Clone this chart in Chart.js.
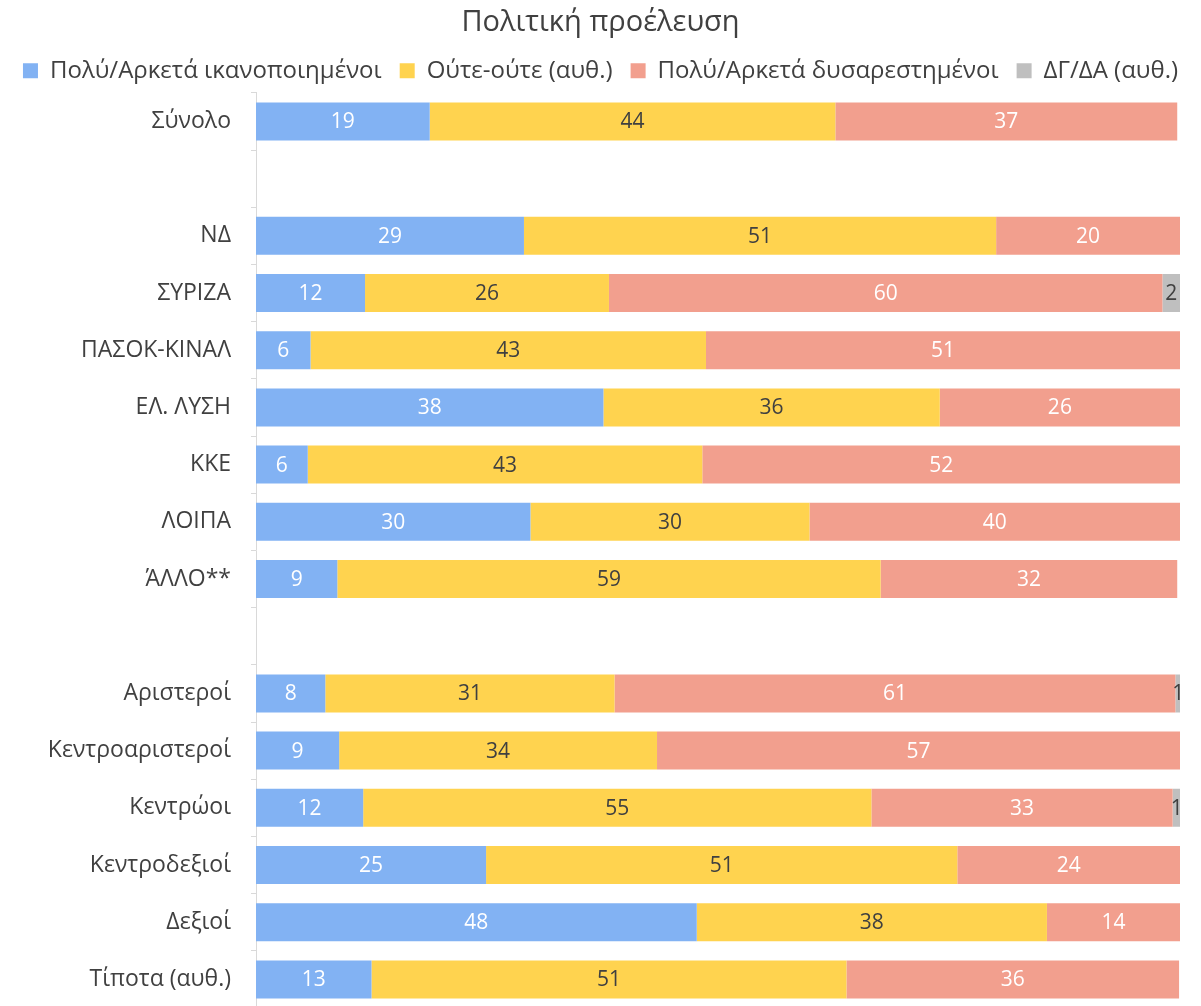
<!DOCTYPE html>
<html lang="el">
  <head>
    <meta charset="UTF-8" />
    <title>Πολιτική προέλευση</title>
    <script src="https://cdn.jsdelivr.net/npm/chart.js"></script>
    <style>
      html, body { margin: 0; padding: 0; background: #fff; overflow: hidden; }
      canvas { display: block; }
    </style>
  </head>
  <body>
    <canvas id="myChart" width="1201" height="1010"></canvas>

    <script>
      // DATA
      const categories = [
        'Σύνολο', '',
        'ΝΔ', 'ΣΥΡΙΖΑ', 'ΠΑΣΟΚ-ΚΙΝΑΛ', 'ΕΛ. ΛΥΣΗ', 'ΚΚΕ', 'ΛΟΙΠΑ', 'ΆΛΛΟ**', '',
        'Αριστεροί', 'Κεντροαριστεροί', 'Κεντρώοι', 'Κεντροδεξιοί', 'Δεξιοί', 'Τίποτα (αυθ.)'
      ];
      const seriesNames = ['Πολύ/Αρκετά ικανοποιημένοι', 'Ούτε-ούτε (αυθ.)', 'Πολύ/Αρκετά δυσαρεστημένοι', 'ΔΓ/ΔΑ (αυθ.)'];
      const satisfied    = [18.8, null, 29.0, 11.8, 5.9, 37.6, 5.6, 29.7, 8.8, null, 7.5, 9.0, 11.6, 24.9, 47.7, 12.5];
      const neutral      = [43.9, null, 51.1, 26.4, 42.8, 36.4, 42.7, 30.2, 58.8, null, 31.3, 34.4, 55.0, 51.0, 37.9, 51.4];
      const dissatisfied = [37.0, null, 19.9, 59.9, 51.3, 26.0, 51.7, 40.1, 32.1, null, 60.7, 56.6, 32.6, 24.1, 14.4, 36.0];
      const dkna         = [0, null, 0, 1.9, 0, 0, 0, 0, 0, null, 0.6, 0, 0.9, 0, 0, 0];

      const colors = ['#82B2F3', '#FFD34F', '#F29F8E', '#BFBFBF'];
      const labelColors = ['#ffffff', '#404040', '#ffffff', '#404040'];
      const textColor = '#404040';

      // value labels in the middle of each segment
      const valueLabels = {
        id: 'valueLabels',
        afterDatasetsDraw(chart) {
          const ctx = chart.ctx;
          ctx.save();
          ctx.font = '21px "Open Sans"';
          ctx.textAlign = 'center';
          ctx.textBaseline = 'middle';
          chart.data.datasets.forEach((ds, i) => {
            const meta = chart.getDatasetMeta(i);
            meta.data.forEach((bar, j) => {
              const v = ds.data[j];
              if (!v) return;
              const p = bar.getProps(['x', 'y', 'base'], true);
              ctx.fillStyle = labelColors[i];
              ctx.fillText(Math.round(v), (p.x + p.base) / 2, p.y + 1);
            });
          });
          ctx.restore();
        }
      };

      const datasets = [satisfied, neutral, dissatisfied, dkna].map((d, i) => ({
        label: seriesNames[i],
        data: d,
        backgroundColor: colors[i],
        borderWidth: 0,
        categoryPercentage: 1,
        barPercentage: 0.665
      }));

      new Chart(document.getElementById('myChart'), {
        type: 'bar',
        data: { labels: categories, datasets: datasets },
        options: {
          indexAxis: 'y',
          responsive: false,
          animation: false,
          layout: { padding: { left: 0, right: 0, top: 0, bottom: 2 } },
          scales: {
            x: {
              stacked: true,
              min: 0,
              max: 100,
              display: false
            },
            y: {
              stacked: true,
              afterFit: (axis) => {
                axis.width = 256;
                // no extra room for the end labels, the plot runs off the bottom
                axis.paddingTop = 0;
                axis.paddingBottom = 0;
              },
              border: { display: true, color: '#d9d9d9', width: 1 },
              grid: { drawOnChartArea: false, drawTicks: true, tickLength: 5, color: '#d9d9d9', offset: true },
              ticks: {
                padding: 20,
                color: textColor,
                font: { family: '"Open Sans"', size: 23 }
              }
            },
            // empty strip on the right so the plot ends where the original does
            yRight: {
              type: 'linear',
              position: 'right',
              display: true,
              afterFit: (axis) => { axis.width = 21; axis.paddingTop = 0; axis.paddingBottom = 0; },
              border: { display: false },
              grid: { display: false },
              ticks: { display: false }
            }
          },
          plugins: {
            title: {
              display: true,
              text: 'Πολιτική προέλευση',
              color: textColor,
              font: { family: '"Open Sans"', size: 29, weight: 'normal' },
              padding: { top: 5, bottom: 1 }
            },
            legend: {
              position: 'top',
              labels: {
                color: textColor,
                font: { family: '"Open Sans"', size: 24 },
                boxWidth: 15,
                boxHeight: 15,
                padding: 18
              }
            },
            tooltip: { enabled: false }
          }
        },
        plugins: [valueLabels]
      });
    </script>
  </body>
</html>
